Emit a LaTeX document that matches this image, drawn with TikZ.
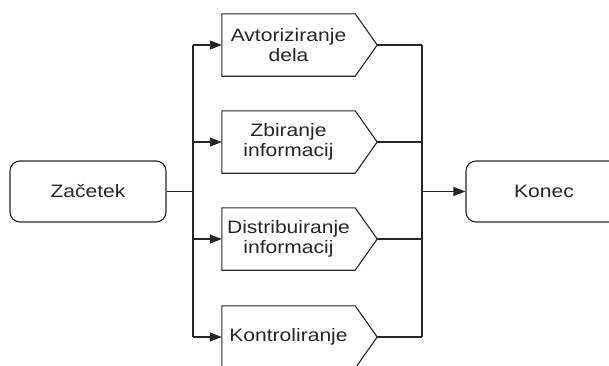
\documentclass[tikz,border=0pt]{standalone}
\usepackage{fontspec}
\usepackage{graphicx}
\setmainfont{Liberation Sans}
\newcommand{\sx}[1]{\scalebox{1.17}[1]{#1}}
\usetikzlibrary{arrows.meta,calc}
\begin{document}
\begin{tikzpicture}[x=1pt,y=1pt,
  line/.style={draw=black!85, line width=1.1pt},
  arr/.style={line, -{Triangle[length=12pt,width=9pt]}},
  termbox/.style={line, rounded corners=10pt, minimum width=156pt, minimum height=61pt, inner sep=0pt, font=\fontsize{18}{20}\selectfont, text=black!85},
  proctext/.style={draw=none, minimum width=133pt, minimum height=62pt, inner sep=0pt, align=center, font=\fontsize{18}{20}\selectfont, text=black!85}
]
\useasboundingbox (0,0) rectangle (609,-365);

\node[termbox] (start) at (88,-191.5) {\sx{Začetek}};
\node[termbox] (end) at (544,-191.5) {\sx{Konec}};

\node[proctext] (p1) at (288.5,-45) {\sx{Avtoriziranje}\\\sx{dela}};
\node[proctext] (p2) at (288.5,-142) {\sx{Zbiranje}\\\sx{informacij}};
\node[proctext] (p3) at (288.5,-239) {\sx{Distribuiranje}\\\sx{informacij}};
\node[proctext] (p4) at (288.5,-337) {\sx{Kontroliranje}};

\foreach \p in {p1,p2,p3,p4}{
  \coordinate (\p tip) at ($(\p.east)+(22,0)$);
  \draw[line] (\p.north west) -- (\p.north east) -- (\p tip) -- (\p.south east) -- (\p.south west) -- cycle;
}

\coordinate (fork) at (193,-191.5);
\coordinate (forkT) at (193,-45);
\coordinate (forkB) at (193,-337);
\coordinate (join) at (422,-191.5);
\coordinate (joinT) at (422,-45);
\coordinate (joinB) at (422,-337);

\draw[line] (start.east) -- (fork);
\draw[line] (forkT) -- (forkB);
\draw[line] (joinT) -- (joinB);
\foreach \p in {p1,p2,p3,p4}{
  \draw[arr] (\p.west -| fork) -- (\p.west);
  \draw[line] (\p tip) -- (\p tip -| join);
}
\draw[arr] (join) -- (end.west);
\end{tikzpicture}
\end{document}
